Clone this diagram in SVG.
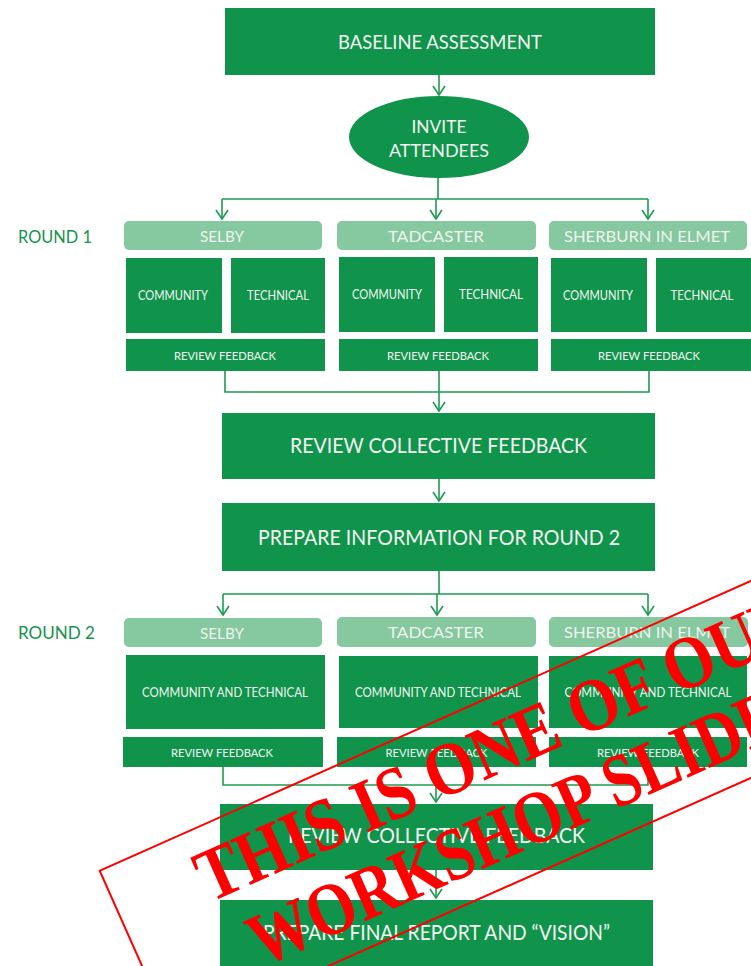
<svg xmlns="http://www.w3.org/2000/svg" width="751" height="966" viewBox="0 0 751 966">
  <defs>
    <style>
      .box { fill: #10934a; }
      .hdr { fill: #86c89f; }
      .t { font-family: Lato, "Open Sans", "Liberation Sans", sans-serif; fill: #f3f6f3; text-anchor: middle; }
      .ht { font-family: Lato, "Open Sans", "Liberation Sans", sans-serif; fill: #eef4ee; text-anchor: middle; font-size: 16px; }
      .round { font-family: Lato, "Open Sans", "Liberation Sans", sans-serif; fill: #16934a; font-size: 17px; }
      .conn { fill: none; stroke: #1e9a52; stroke-width: 1.6; }
      .stamp { font-family: "Liberation Serif", "DejaVu Serif", serif; font-weight: bold; font-size: 75px; fill: #ff0000; }
    </style>
    <marker id="arrow" viewBox="-10 -8 12 16" markerWidth="12" markerHeight="16" refX="0" refY="0" orient="auto" markerUnits="userSpaceOnUse" overflow="visible">
      <path d="M-9,-6 L0,0 L-9,6" fill="none" stroke="#1e9a52" stroke-width="1.6"/>
    </marker>
  </defs>

  <rect width="751" height="966" fill="#ffffff"/>

  <!-- connectors -->
  <g id="connectors" class="conn">
    <path d="M439,75 V95" marker-end="url(#arrow)"/>
    <path d="M438,178 V199 M222,199 H648"/>
    <path d="M222,199 V219" marker-end="url(#arrow)"/>
    <path d="M436,199 V219" marker-end="url(#arrow)"/>
    <path d="M648,199 V219" marker-end="url(#arrow)"/>
    <path d="M225,371 V392 H649 V371 M439,371 V392"/>
    <path d="M439,392 V411" marker-end="url(#arrow)"/>
    <path d="M439,479 V501" marker-end="url(#arrow)"/>
    <path d="M439,571 V594 M223,594 H648"/>
    <path d="M223,594 V615" marker-end="url(#arrow)"/>
    <path d="M437,594 V615" marker-end="url(#arrow)"/>
    <path d="M648,594 V615" marker-end="url(#arrow)"/>
    <path d="M223,767 V785 H648 V767 M436,767 V785"/>
    <path d="M436,785 V802" marker-end="url(#arrow)"/>
    <path d="M436,870 V898" marker-end="url(#arrow)"/>
  </g>

  <g id="baseline-assessment">
    <rect class="box" x="225" y="8" width="430" height="67"/>
    <text class="t" x="440" y="49" font-size="19.5" textLength="204" lengthAdjust="spacingAndGlyphs">BASELINE ASSESSMENT</text>
  </g>

  <g id="invite-attendees">
    <ellipse class="box" cx="439" cy="137" rx="90" ry="41"/>
    <text class="t" x="439" y="133" font-size="18" textLength="55" lengthAdjust="spacingAndGlyphs">INVITE</text>
    <text class="t" x="439" y="157" font-size="18" textLength="100" lengthAdjust="spacingAndGlyphs">ATTENDEES</text>
  </g>

  <!-- Round 1 -->
  <text id="round-1" class="round" x="18" y="243" textLength="74" lengthAdjust="spacingAndGlyphs">ROUND 1</text>

  <g id="r1-selby">
    <rect class="hdr" x="124" y="221" width="198" height="29" rx="5"/>
    <text class="ht" x="222" y="242" textLength="44" lengthAdjust="spacingAndGlyphs">SELBY</text>
  </g>
  <g id="r1-selby-community">
    <rect class="box" x="126" y="258" width="96" height="75"/>
    <text class="t" x="173" y="300" font-size="13" textLength="70" lengthAdjust="spacingAndGlyphs">COMMUNITY</text>
  </g>
  <g id="r1-selby-technical">
    <rect class="box" x="231" y="258" width="94" height="75"/>
    <text class="t" x="278" y="300" font-size="13" textLength="62" lengthAdjust="spacingAndGlyphs">TECHNICAL</text>
  </g>
  <g id="r1-selby-review">
    <rect class="box" x="126" y="339" width="199" height="32"/>
    <text class="t" x="225" y="360" font-size="12" textLength="102" lengthAdjust="spacingAndGlyphs">REVIEW FEEDBACK</text>
  </g>

  <g id="r1-tadcaster">
    <rect class="hdr" x="337" y="221" width="199" height="29" rx="5"/>
    <text class="ht" x="436" y="242" textLength="96" lengthAdjust="spacingAndGlyphs">TADCASTER</text>
  </g>
  <g id="r1-tadcaster-community">
    <rect class="box" x="339" y="257" width="96" height="75"/>
    <text class="t" x="387" y="299" font-size="13" textLength="70" lengthAdjust="spacingAndGlyphs">COMMUNITY</text>
  </g>
  <g id="r1-tadcaster-technical">
    <rect class="box" x="444" y="257" width="94" height="75"/>
    <text class="t" x="491" y="299" font-size="13" textLength="64" lengthAdjust="spacingAndGlyphs">TECHNICAL</text>
  </g>
  <g id="r1-tadcaster-review">
    <rect class="box" x="339" y="339" width="199" height="32"/>
    <text class="t" x="438" y="360" font-size="12" textLength="102" lengthAdjust="spacingAndGlyphs">REVIEW FEEDBACK</text>
  </g>

  <g id="r1-sherburn">
    <rect class="hdr" x="549" y="221" width="198" height="29" rx="5"/>
    <text class="ht" x="647" y="242" textLength="166" lengthAdjust="spacingAndGlyphs">SHERBURN IN ELMET</text>
  </g>
  <g id="r1-sherburn-community">
    <rect class="box" x="551" y="258" width="96" height="74"/>
    <text class="t" x="598" y="300" font-size="13" textLength="70" lengthAdjust="spacingAndGlyphs">COMMUNITY</text>
  </g>
  <g id="r1-sherburn-technical">
    <rect class="box" x="656" y="258" width="100" height="74"/>
    <text class="t" x="702" y="300" font-size="13" textLength="63" lengthAdjust="spacingAndGlyphs">TECHNICAL</text>
  </g>
  <g id="r1-sherburn-review">
    <rect class="box" x="551" y="339" width="205" height="32"/>
    <text class="t" x="649" y="360" font-size="12" textLength="102" lengthAdjust="spacingAndGlyphs">REVIEW FEEDBACK</text>
  </g>

  <g id="review-collective-1">
    <rect class="box" x="222" y="413" width="433" height="66"/>
    <text class="t" x="438.5" y="453" font-size="22" textLength="297" lengthAdjust="spacingAndGlyphs">REVIEW COLLECTIVE FEEDBACK</text>
  </g>

  <g id="prepare-round-2">
    <rect class="box" x="222" y="503" width="433" height="68"/>
    <text class="t" x="439" y="545" font-size="22" textLength="362" lengthAdjust="spacingAndGlyphs">PREPARE INFORMATION FOR ROUND 2</text>
  </g>

  <!-- Round 2 -->
  <text id="round-2" class="round" x="18" y="639" textLength="77" lengthAdjust="spacingAndGlyphs">ROUND 2</text>

  <g id="r2-selby">
    <rect class="hdr" x="124" y="618" width="198" height="29" rx="5"/>
    <text class="ht" x="222" y="639" textLength="44" lengthAdjust="spacingAndGlyphs">SELBY</text>
  </g>
  <g id="r2-selby-both">
    <rect class="box" x="126" y="655" width="199" height="74"/>
    <text class="t" x="225" y="697" font-size="13" textLength="166" lengthAdjust="spacingAndGlyphs">COMMUNITY AND TECHNICAL</text>
  </g>
  <g id="r2-selby-review">
    <rect class="box" x="123" y="737" width="200" height="30"/>
    <text class="t" x="222" y="757" font-size="12" textLength="102" lengthAdjust="spacingAndGlyphs">REVIEW FEEDBACK</text>
  </g>

  <g id="r2-tadcaster">
    <rect class="hdr" x="337" y="617" width="199" height="30" rx="5"/>
    <text class="ht" x="436" y="638" textLength="96" lengthAdjust="spacingAndGlyphs">TADCASTER</text>
  </g>
  <g id="r2-tadcaster-both">
    <rect class="box" x="339" y="656" width="199" height="72"/>
    <text class="t" x="438" y="697" font-size="13" textLength="166" lengthAdjust="spacingAndGlyphs">COMMUNITY AND TECHNICAL</text>
  </g>
  <g id="r2-tadcaster-review">
    <rect class="box" x="337" y="737" width="199" height="30"/>
    <text class="t" x="436.5" y="757" font-size="12" textLength="102" lengthAdjust="spacingAndGlyphs">REVIEW FEEDBACK</text>
  </g>

  <g id="r2-sherburn">
    <rect class="hdr" x="549" y="617" width="199" height="30" rx="5"/>
    <text class="ht" x="647" y="638" textLength="166" lengthAdjust="spacingAndGlyphs">SHERBURN IN ELMET</text>
  </g>
  <g id="r2-sherburn-both">
    <rect class="box" x="549" y="656" width="198" height="72"/>
    <text class="t" x="648" y="697" font-size="13" textLength="167" lengthAdjust="spacingAndGlyphs">COMMUNITY AND TECHNICAL</text>
  </g>
  <g id="r2-sherburn-review">
    <rect class="box" x="549" y="737" width="198" height="30"/>
    <text class="t" x="648" y="757" font-size="12" textLength="102" lengthAdjust="spacingAndGlyphs">REVIEW FEEDBACK</text>
  </g>

  <g id="review-collective-2">
    <rect class="box" x="220" y="804" width="433" height="66"/>
    <text class="t" x="436.5" y="843" font-size="22" textLength="297" lengthAdjust="spacingAndGlyphs">REVIEW COLLECTIVE FEEDBACK</text>
  </g>

  <g id="prepare-final">
    <rect class="box" x="220" y="900" width="433" height="80"/>
    <text class="t" x="436.5" y="940" font-size="22" textLength="347" lengthAdjust="spacingAndGlyphs">PREPARE FINAL REPORT AND “VISION”</text>
  </g>

  <!-- rubber stamp overlay -->
  <g id="stamp" transform="translate(204,901) rotate(-24)">
    <rect x="-83" y="-70" width="820" height="180" fill="none" stroke="#ff0000" stroke-width="2"/>
    <text class="stamp" x="4" y="4" textLength="655" lengthAdjust="spacingAndGlyphs">THIS IS ONE OF OUR</text>
    <text class="stamp" x="26" y="84" textLength="610" lengthAdjust="spacingAndGlyphs">WORKSHOP SLIDES</text>
  </g>
</svg>
